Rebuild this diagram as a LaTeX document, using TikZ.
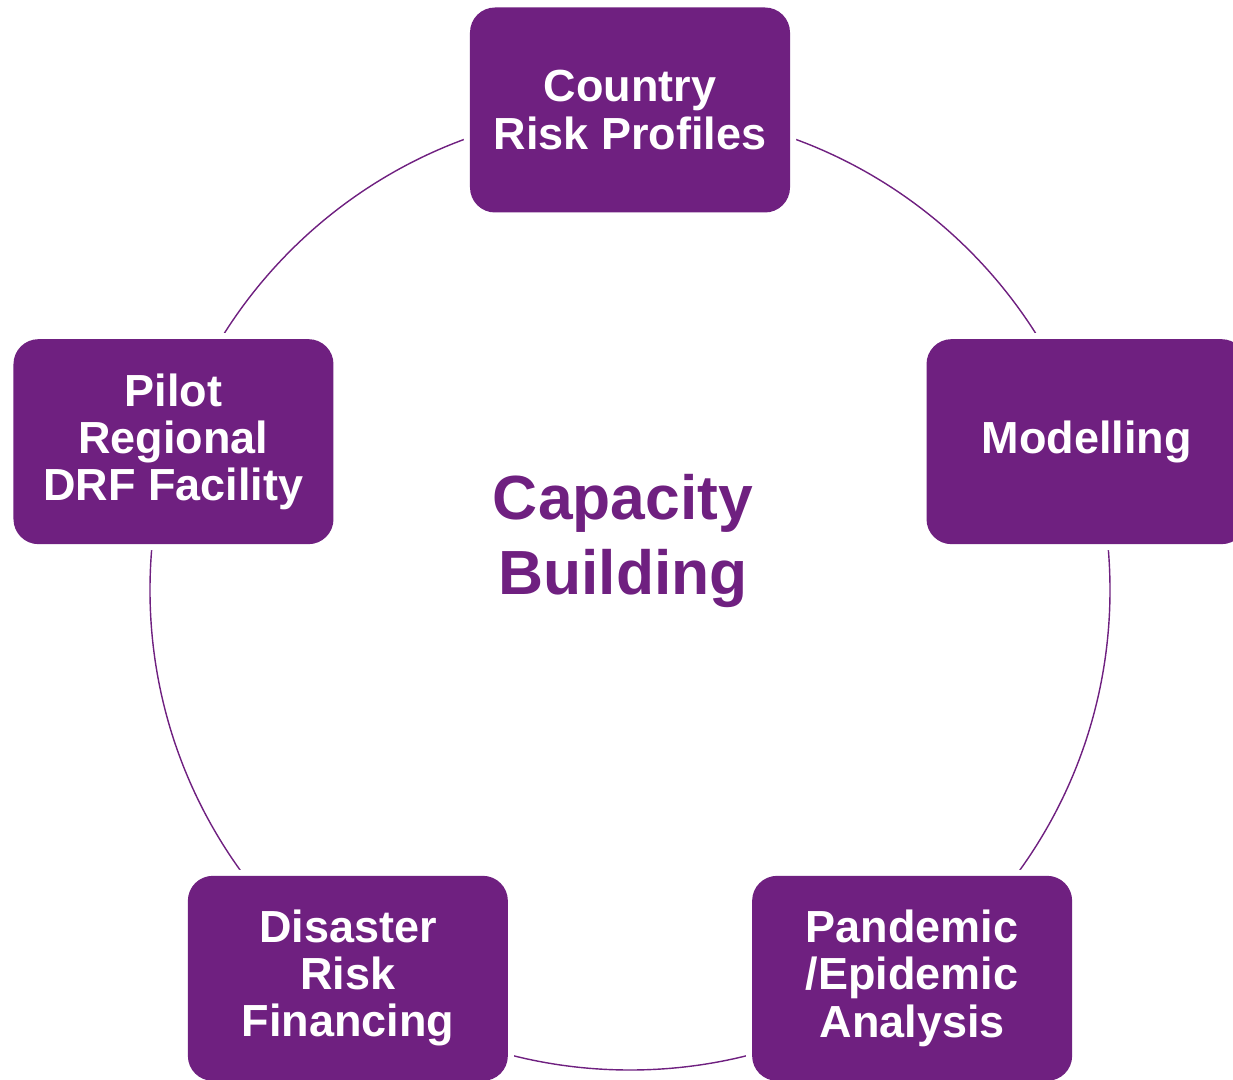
\documentclass[tikz,border=0pt]{standalone}
\usepackage{fontspec}
\setmainfont{Liberation Sans}
\definecolor{tim}{RGB}{111,32,128}
\tikzset{
	oto/.style={rectangle, rounded corners=0.5cm, fill=tim, text=white, minimum width=6.4cm, minimum height=4.1cm, inner sep=0pt, align=center, font=\bfseries\fontsize{25.6}{26.8}\selectfont, preaction={draw=white, line width=0.24cm}},
	chu/.style={text=tim, align=center, font=\bfseries\fontsize{35.5}{42.6}\selectfont}
}
\begin{document}
\begin{tikzpicture}[line join=round, line cap=round]
	\useasboundingbox (-12.6,-9.8) rectangle (12.06,11.8);
	\coordinate (O) at (0,0);
	\draw[tim, line width=0.8pt] (O) circle (9.6);%đường tròn
	\node[oto] (crp) at (90:9.6) {Country\\Risk Profiles};%ô trên
	\node[oto] (mod) at (18:9.6) {Modelling};
	\node[oto] (pea) at (-54:9.6) {Pandemic\\/Epidemic\\Analysis};
	\node[oto] (drf) at (-126:9.6) {Disaster\\Risk\\Financing};
	\node[oto] (prf) at (162:9.6) {Pilot\\Regional\\DRF Facility};
	\node[chu] (cb) at (-0.14,0.98) {Capacity\\Building};%chữ giữa
\end{tikzpicture}
\end{document}
